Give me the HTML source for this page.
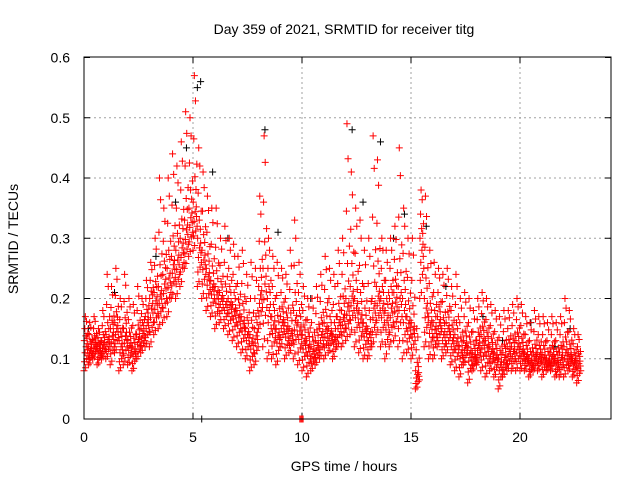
<!DOCTYPE html>
<html><head><meta charset="utf-8"><style>
body{margin:0;background:#fff}
svg{display:block;font-family:"Liberation Sans",sans-serif}
</style></head><body>
<svg id="chart" width="640" height="480" viewBox="0 0 640 480">
<text x="344" y="34" text-anchor="middle" font-size="14">Day 359 of 2021, SRMTID for receiver titg</text>
<text transform="translate(18,239) rotate(-90)" text-anchor="middle" font-size="14">SRMTID / TECUs</text>
<text x="344" y="471" text-anchor="middle" font-size="14">GPS time / hours</text>
<g id="grid"></g><g id="ticks"></g><g id="marks"></g>
<rect x="84" y="57" width="527" height="362" fill="none" stroke="#000" stroke-width="1"/>
</svg>
<script>
const xTicks=[0,5,10,15,20];
const yTicks=[0,0.1,0.2,0.3,0.4,0.5,0.6];
const yTickLabels=["0","0.1","0.2","0.3","0.4","0.5","0.6"];
const binStart=0, binWidth=0.2;
const hiVals=[.17,.16,.17,.15,.18,.24,.22,.25,.2,.24,.2,.19,.22,.2,.23,.26,.3,.4,.35,.4,.44,.42,.46,.51,.5,.57,.45,.41,.37,.35,.35,.3,.32,.3,.29,.27,.28,.24,.26,.25,.37,.47,.3,.27,.26,.25,.24,.28,.33,.26,.22,.2,.2,.22,.24,.27,.25,.24,.28,.3,.49,.41,.35,.33,.28,.3,.47,.43,.3,.28,.3,.32,.45,.35,.3,.3,.15,.38,.37,.28,.26,.25,.24,.25,.22,.24,.2,.21,.2,.18,.2,.21,.2,.19,.18,.17,.18,.18,.19,.2,.19,.17,.16,.18,.17,.17,.16,.17,.16,.17,.2,.18,.15,.14];
const midVals=[.13,.12,.13,.12,.13,.14,.15,.16,.13,.15,.13,.12,.14,.15,.17,.2,.21,.22,.24,.25,.27,.28,.3,.33,.35,.36,.3,.28,.25,.23,.22,.21,.2,.2,.19,.18,.17,.15,.14,.15,.22,.25,.2,.17,.15,.17,.16,.15,.18,.16,.14,.13,.12,.13,.15,.16,.15,.14,.17,.18,.2,.22,.2,.18,.16,.15,.2,.22,.2,.18,.2,.21,.22,.2,.17,.16,.08,.3,.2,.17,.16,.17,.15,.16,.14,.14,.12,.13,.12,.11,.13,.14,.13,.12,.11,.1,.11,.12,.12,.13,.12,.11,.1,.11,.11,.11,.1,.11,.1,.11,.12,.11,.1,.1];
const loVals=[.08,.09,.1,.09,.1,.1,.09,.11,.08,.09,.09,.08,.1,.11,.12,.12,.14,.15,.16,.17,.2,.2,.22,.25,.27,.28,.22,.2,.18,.17,.15,.16,.15,.14,.13,.12,.11,.1,.08,.09,.15,.12,.1,.1,.09,.12,.1,.11,.1,.09,.08,.07,.08,.09,.1,.1,.11,.1,.12,.12,.13,.14,.12,.11,.1,.1,.12,.14,.12,.1,.12,.13,.12,.1,.11,.1,.05,.2,.12,.1,.1,.12,.1,.11,.09,.08,.07,.09,.06,.08,.09,.08,.07,.08,.07,.05,.07,.08,.08,.08,.08,.08,.07,.08,.08,.07,.08,.08,.07,.07,.07,.08,.07,.06];
const blackT=[0.2,1.4,3.3,4.2,4.7,5.2,5.35,5.9,6.6,8.3,8.9,10.4,12.3,12.8,13.6,14.2,14.7,15.7,16.6,18.3,19.2,20.5,21.6,22.3,5.4];
const blackV=[0.15,0.21,0.27,0.36,0.45,0.55,0.56,0.41,0.3,0.48,0.31,0.2,0.48,0.36,0.46,0.3,0.34,0.32,0.22,0.17,0.13,0.16,0.12,0.15,0.0];
const zeroT=[9.9,9.95,10.0,10.05];
const zeroV=[0,0,0,0];
const X=t=>84+t*21.8, Y=v=>419-v*602.5;
const NS="http://www.w3.org/2000/svg";
const grid=document.getElementById('grid'),ticks=document.getElementById('ticks'),marks=document.getElementById('marks');
function ln(p,x1,y1,x2,y2,st,da){const l=document.createElementNS(NS,'line');l.setAttribute('x1',x1);l.setAttribute('y1',y1);l.setAttribute('x2',x2);l.setAttribute('y2',y2);l.setAttribute('stroke',st);if(da)l.setAttribute('stroke-dasharray',da);p.appendChild(l);return l;}
function tx(x,y,s,a){const t=document.createElementNS(NS,'text');t.setAttribute('x',x);t.setAttribute('y',y);t.setAttribute('text-anchor',a);t.setAttribute('font-size','14');t.textContent=s;ticks.appendChild(t);return t;}
xTicks.forEach(v=>{const x=X(v);
if(v>0){const g=ln(grid,x,57,x,419,'#a0a0a0','2,3');}
ln(ticks,x,419,x,413,'#000');ln(ticks,x,57,x,63,'#000');
const t=tx(x,442,String(v),'middle');

});
yTicks.forEach((v,i)=>{const y=Y(v);
if(v>0&&v<0.6){const g=ln(grid,84,y,611,y,'#a0a0a0','2,3');}
ln(ticks,84,y,90,y,'#000');ln(ticks,611,y,605,y,'#000');
const t=tx(70,y+5,yTickLabels[i],'end');

});
function cross(t,v,c,name){const x=X(t),y=Y(v);const p=document.createElementNS(NS,'path');
p.setAttribute('d',`M${x-3.5},${y}h7M${x},${y-3.5}v7`);p.setAttribute('stroke',c);p.setAttribute('fill','none');


marks.appendChild(p);}
blackT.forEach((t,i)=>cross(t,blackV[i],'#000','black-point'));
const mix=[0,0.5,0.15,0.75,0.3,1,0.05,0.6,0.4,0.9,0.2,0.55,0.45,0.35,0.65,0.25];
hiVals.forEach((h,i)=>{const t0=binStart+i*binWidth,lo=loVals[i],m=midVals[i];
mix.forEach((f,k)=>{const t=t0+k*binWidth/mix.length;
const v=f<0.5?lo+(m-lo)*f*2:m+(h-m)*(f-0.5)*2;
cross(t,v,'#f00','srmtid-point');});});
zeroT.forEach((t,i)=>cross(t,zeroV[i],'#f00','zero-point'));
</script>
</body></html>
